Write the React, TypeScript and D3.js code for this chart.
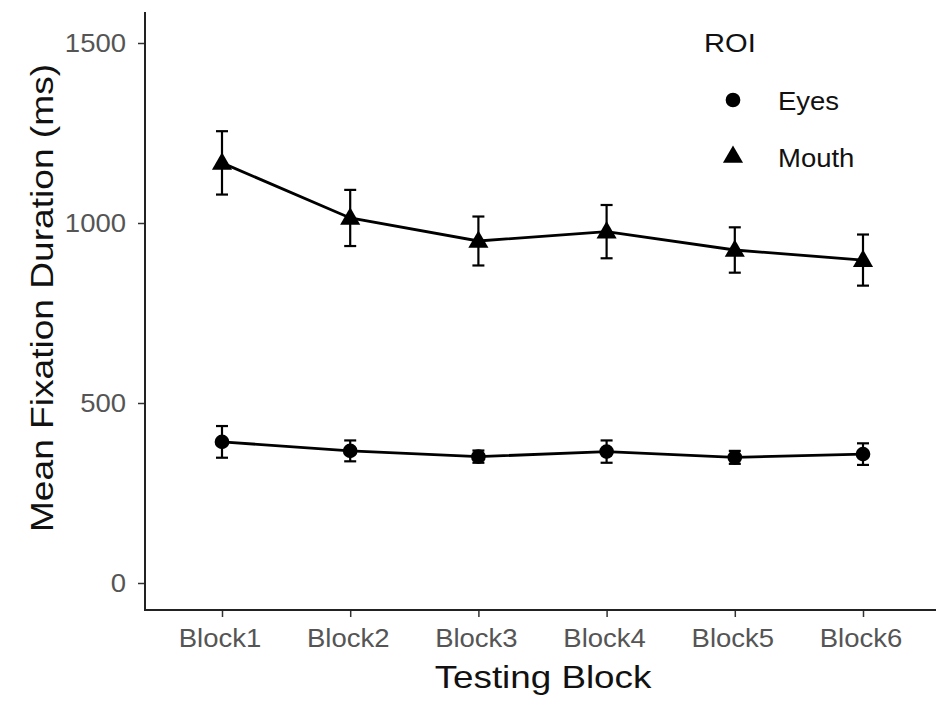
import React, { useEffect, useRef } from 'react';
import * as d3 from 'd3';

const blocks = ['Block1', 'Block2', 'Block3', 'Block4', 'Block5', 'Block6'];
const mouthMean = [1167, 1014, 950, 976, 925, 897];
const mouthErr = [88, 78, 68, 74, 63, 71];
const eyesMean = [392, 367, 351, 365, 349, 358];
const eyesErr = [44, 29, 17, 31, 18, 30];
const yTicks = [0, 500, 1000, 1500];

const FONT = '"Liberation Sans", Arial, sans-serif';

export default function App() {
  const ref = useRef<SVGSVGElement>(null);

  useEffect(() => {
    const svg = d3.select(ref.current);
    svg.selectAll('*').remove();

    const width = 936;
    const height = 703;
    const left = 145;
    const bottom = 610;

    const x = d3.scalePoint().domain(blocks).range([222, 863]);
    const y = d3.scaleLinear().domain([-75, 1575]).range([bottom, 16]);

    svg.append('rect').attr('width', width).attr('height', height).attr('fill', '#fff');

    // text in the picture is a bit wider than Liberation Sans, so stretch it along its run
    const label = (tx: number, ty: number, txt: string, size: number, stretch: number,
                   anchor = 'start', fill = '#111', rot = 0) =>
      svg.append('text')
        .attr('transform', `translate(${tx},${ty}) rotate(${rot}) scale(${stretch},1)`)
        .attr('text-anchor', anchor)
        .style('font-family', FONT).style('font-size', `${size}px`)
        .attr('fill', fill).text(txt);

    // y axis
    const yAxis = svg.append('g')
      .attr('transform', `translate(${left},0)`)
      .call(d3.axisLeft(y).tickValues(yTicks).tickSize(7).tickFormat(() => ''));
    yAxis.select('.domain').remove();
    yAxis.selectAll('.tick line').attr('stroke', '#333').attr('stroke-width', 1.5);
    yTicks.forEach(t => label(126, y(t) + 9, String(t), 25, 1.1, 'end', '#555'));

    // x axis
    const xAxis = svg.append('g')
      .attr('transform', `translate(0,${bottom})`)
      .call(d3.axisBottom(x).tickSize(7).tickFormat(() => ''));
    xAxis.select('.domain').remove();
    xAxis.selectAll('.tick line').attr('stroke', '#333').attr('stroke-width', 1.5);
    blocks.forEach(b => label((x(b) as number) - 2, 647, b, 25, 1.1, 'middle', '#555'));

    // axis lines
    svg.append('line').attr('x1', left).attr('x2', left).attr('y1', y(1575) - 4).attr('y2', bottom + 1)
      .attr('stroke', '#222').attr('stroke-width', 2);
    svg.append('line').attr('x1', left - 1).attr('x2', width).attr('y1', bottom).attr('y2', bottom)
      .attr('stroke', '#222').attr('stroke-width', 2);

    // titles
    label(543, 688, 'Testing Block', 32, 1.15, 'middle');
    label(53, 298, 'Mean Fixation Duration (ms)', 32, 1.16, 'middle', '#111', -90);

    const line = d3.line<number>().x((_, i) => x(blocks[i]) as number).y(d => y(d));
    const triangle = d3.symbol().type(d3.symbolTriangle).size(175);
    const circle = d3.symbol().type(d3.symbolCircle).size(170);

    const series = [
      { mean: eyesMean, err: eyesErr, shape: circle, dy: 0 },
      { mean: mouthMean, err: mouthErr, shape: triangle, dy: 1 },
    ];

    series.forEach(s => {
      svg.append('path').attr('d', line(s.mean)).attr('fill', 'none').attr('stroke', '#000').attr('stroke-width', 2.8);
      const g = svg.append('g');
      s.mean.forEach((m, i) => {
        const cx = x(blocks[i]) as number;
        const y1 = y(m + s.err[i]);
        const y2 = y(m - s.err[i]);
        g.append('line').attr('x1', cx).attr('x2', cx).attr('y1', y1).attr('y2', y2).attr('stroke', '#000').attr('stroke-width', 2.2);
        [y1, y2].forEach(yy => {
          g.append('line').attr('x1', cx - 6).attr('x2', cx + 6).attr('y1', yy).attr('y2', yy)
            .attr('stroke', '#000').attr('stroke-width', 2.2);
        });
        g.append('path').attr('d', s.shape()).attr('transform', `translate(${cx},${y(m) + s.dy})`).attr('fill', '#000');
      });
    });

    // legend
    label(704, 52, 'ROI', 26, 1.12);
    const legend = [
      { text: 'Eyes', shape: circle, cy: 100 },
      { text: 'Mouth', shape: triangle, cy: 157 },
    ];
    legend.forEach(l => {
      svg.append('path').attr('d', l.shape()).attr('transform', `translate(733,${l.cy})`).attr('fill', '#000');
      label(778, l.cy + 10, l.text, 25, 1.1);
    });
  }, []);

  return (
    <svg ref={ref} width={936} height={703} style={{ position: 'absolute', left: 0, top: 0 }} />
  );
}
